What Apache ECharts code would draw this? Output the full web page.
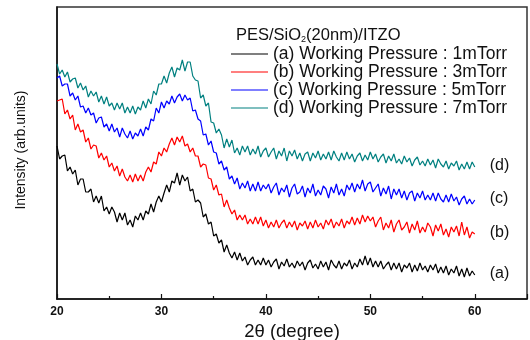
<!DOCTYPE html>
<html>
<head>
<meta charset="utf-8">
<script src="https://cdn.jsdelivr.net/npm/echarts@6/dist/echarts.min.js"></script>
<style>html,body{margin:0;padding:0;background:#fff}#c{width:530px;height:340px}</style>
</head>
<body>
<div id="c"></div>
<script>
// Scan grid: 2-theta from 20 to 60 degrees, step 0.25
const angleStart = 20, angleStep = 0.25;
const seriesNames = [
  '(a) Working Pressure : 1mTorr',
  '(b) Working Pressure : 3mTorr',
  '(c) Working Pressure : 5mTorr',
  '(d) Working Pressure : 7mTorr'
];
const curveTags = ['(a)', '(b)', '(c)', '(d)'];
const xTicks = [20, 30, 40, 50, 60];

// Intensities (arb. units), one value per scan point
const intensityA = [
153,140,143,144,128,132,125,129,114,120,120,107,107,110,97,103,96,103,88,92,
85,92,87,77,86,79,86,74,79,72,83,79,86,79,88,85,95,87,97,103,
97,106,114,107,118,116,126,114,124,118,122,108,110,97,99,96,82,85,75,77,
63,65,56,59,47,54,46,41,47,39,46,38,42,34,39,42,34,39,34,41,
34,39,32,37,40,30,37,33,40,32,36,31,38,33,37,29,36,39,31,35,
30,38,32,37,29,39,34,31,38,30,36,33,39,30,36,32,40,34,43,34,
41,32,38,32,38,30,34,37,29,36,30,36,27,34,31,36,27,34,28,36,
29,33,27,34,29,35,26,32,26,33,24,30,26,33,23,30,22,31,23,28,
24
];
const intensityB = [
198,199,200,185,189,180,184,169,175,167,169,157,161,150,154,153,141,146,139,143,
132,136,128,133,123,130,122,118,124,117,125,118,124,118,127,132,127,137,135,147,
143,151,147,155,161,154,162,157,163,153,155,147,151,143,143,132,135,134,121,120,
109,114,104,105,92,99,91,85,89,79,84,79,84,75,80,75,82,75,82,73,
79,71,77,72,79,71,76,79,71,77,72,78,69,76,73,78,70,77,71,79,
72,76,70,79,74,80,71,77,73,80,71,78,75,82,74,81,75,84,77,83,
78,82,72,78,82,69,76,71,79,67,75,79,69,72,77,66,75,69,78,66,
72,67,76,72,63,74,68,75,64,70,62,72,67,73,63,77,64,72,61,67,
65
];
const intensityC = [
221,223,213,215,215,203,206,199,203,192,193,186,191,184,186,176,181,182,172,175,
168,175,167,171,162,171,165,161,168,160,166,163,170,163,172,169,180,178,191,186,
197,191,198,195,203,196,202,205,198,204,199,201,188,189,180,178,164,165,154,158,
147,146,135,138,129,132,120,123,115,121,110,116,111,118,108,115,108,117,108,114,
110,115,106,112,116,104,111,107,114,102,111,115,105,107,113,102,111,106,115,103,
109,104,113,110,101,112,106,115,104,110,103,114,109,116,107,115,110,119,108,115,
117,107,111,115,103,111,105,113,100,110,104,110,101,108,99,106,108,98,106,101,
108,99,104,99,106,98,106,100,97,104,97,105,98,102,94,100,103,95,100,95,
99
];
const intensityD = [
235,225,229,222,227,217,220,221,211,216,209,213,202,208,203,207,197,203,195,202,
193,196,189,196,190,196,186,192,186,193,185,192,189,198,191,200,195,208,204,215,
215,223,216,226,232,222,231,229,239,228,237,237,223,219,218,201,204,193,196,177,
176,166,170,164,151,160,152,159,146,151,144,153,147,153,144,150,145,153,142,148,
151,142,147,151,140,148,143,151,138,148,143,149,140,146,138,145,147,138,146,141,
148,139,145,140,147,139,148,142,138,146,139,147,140,145,137,143,146,138,144,139,
147,140,145,137,142,145,136,143,138,145,136,140,135,143,137,141,133,139,142,134,
138,133,140,134,139,131,140,135,132,138,130,136,133,138,129,135,130,137,130,137,
132
];
const colors = ['#000000', '#ff0000', '#0000ff', '#008080'];

const twoTheta = intensityA.map((_, i) => angleStart + i * angleStep);
const allData = [intensityA, intensityB, intensityC, intensityD];

const font = '"Liberation Sans", Arial, sans-serif';
const chart = echarts.init(document.getElementById('c'), null, {renderer: 'canvas'});
chart.setOption({
  animation: false,
  backgroundColor: '#ffffff',
  textStyle: {fontFamily: font, color: '#000'},
  title: {
    text: 'PES/SiO{s|2}(20nm)/ITZO',
    left: 231, top: 21,
    textStyle: {
      fontFamily: font, fontSize: 16.5, fontWeight: 'normal', color: '#111',
      rich: {s: {fontFamily: font, fontSize: 9, color: '#111', padding: [9, 0, 0, 0]}}
    }
  },
  legend: {
    orient: 'vertical',
    left: 231, top: 45,
    icon: 'rect',
    itemWidth: 37, itemHeight: 1,
    itemGap: 0,
    padding: 0,
    textStyle: {fontFamily: font, fontSize: 17.5, color: '#111', lineHeight: 18},
    data: seriesNames
  },
  grid: {
    left: 57, right: 3, top: 7, bottom: 41,
    outerBoundsMode: 'none',
    containLabel: false,
    show: true, borderColor: '#333', borderWidth: 1.5, backgroundColor: 'transparent'
  },
  xAxis: {
    type: 'value', min: 20, max: 65, interval: 10,
    name: '2θ (degree)', nameLocation: 'middle', nameGap: 18,
    nameTextStyle: {fontFamily: font, fontSize: 18.5, color: '#111'},
    axisLine: {show: true, lineStyle: {color: '#111', width: 1.5}},
    axisTick: {show: true, inside: true, length: 5, lineStyle: {color: '#111', width: 1.2}},
    minorTick: {show: true, splitNumber: 2, length: 3, lineStyle: {color: '#111', width: 1.2}},
    axisLabel: {
      fontFamily: font, fontSize: 12, fontWeight: 'bold', color: '#111', margin: 7,
      showMaxLabel: false,
      formatter: v => (xTicks.indexOf(v) >= 0 ? String(v) : '')
    },
    splitLine: {show: false}, minorSplitLine: {show: false}
  },
  yAxis: {
    type: 'value', min: 0, max: 292,
    name: 'Intensity (arb.units)', nameLocation: 'middle', nameGap: 29,
    nameTextStyle: {fontFamily: font, fontSize: 14, color: '#111', padding: [0, 0, 0, 6]},
    axisLine: {show: true, lineStyle: {color: '#111', width: 1.5}},
    axisTick: {show: false}, axisLabel: {show: false}, splitLine: {show: false}
  },
  series: allData.map((vals, k) => ({
    name: seriesNames[k],
    type: 'line',
    data: vals.map((v, i) => [twoTheta[i], v]),
    showSymbol: false,
    symbol: 'none',
    color: colors[k],
    lineStyle: {color: colors[k], width: 1.2},
    emphasis: {disabled: true},
    endLabel: {
      show: true, formatter: curveTags[k], distance: 15, offset: [0, -1],
      fontFamily: font, fontSize: 16, color: '#111'
    }
  }))
});
</script>
</body>
</html>
